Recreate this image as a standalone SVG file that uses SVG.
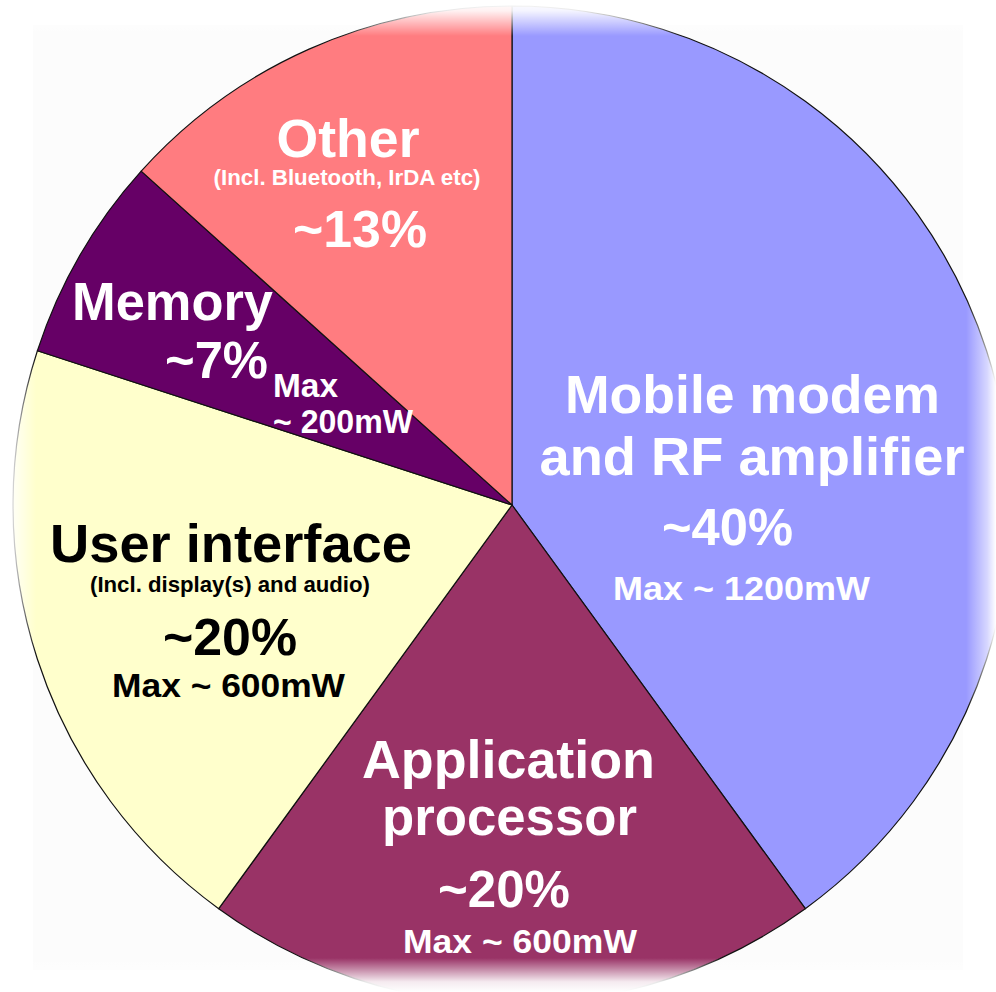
<svg xmlns="http://www.w3.org/2000/svg" width="996" height="992" viewBox="0 0 996 992">
  <style>
    .slice { stroke: #111; stroke-width: 1.2; stroke-linejoin: round; }
    .t { font-family: "Liberation Sans", Arial, sans-serif; font-weight: bold; text-anchor: middle; }
    .ts { font-family: "Liberation Sans", Arial, sans-serif; font-weight: bold; text-anchor: start; }
    .w { fill: #ffffff; }
    .k { fill: #000000; }
    .big { font-size: 53px; }
    .pct { font-size: 51px; }
    .sub { font-size: 22px; }
    .max { font-size: 33px; }
  </style>
  <defs>
    <linearGradient id="fadeTop" x1="0" y1="0" x2="0" y2="1">
      <stop offset="0" stop-color="#fff" stop-opacity="1"/>
      <stop offset="0.3" stop-color="#fff" stop-opacity="0.9"/>
      <stop offset="1" stop-color="#fff" stop-opacity="0"/>
    </linearGradient>
    <linearGradient id="fadeBottom" x1="0" y1="1" x2="0" y2="0">
      <stop offset="0" stop-color="#fff" stop-opacity="1"/>
      <stop offset="0.3" stop-color="#fff" stop-opacity="0.9"/>
      <stop offset="1" stop-color="#fff" stop-opacity="0"/>
    </linearGradient>
    <linearGradient id="fadeLeft" x1="0" y1="0" x2="1" y2="0">
      <stop offset="0" stop-color="#fff" stop-opacity="1"/>
      <stop offset="0.3" stop-color="#fff" stop-opacity="0.9"/>
      <stop offset="1" stop-color="#fff" stop-opacity="0"/>
    </linearGradient>
    <linearGradient id="fadeRight" x1="1" y1="0" x2="0" y2="0">
      <stop offset="0" stop-color="#fff" stop-opacity="1"/>
      <stop offset="0.3" stop-color="#fff" stop-opacity="0.6"/>
      <stop offset="1" stop-color="#fff" stop-opacity="0"/>
    </linearGradient>
  </defs>
  <rect x="0" y="0" width="996" height="992" fill="#ffffff"/>
  <rect x="33" y="25" width="930" height="945" fill="#fcfcfc"/>

  <g id="mobile-modem">
    <path class="slice" fill="#9999FF" d="M512,505 L512,6 A499,499 0 0,1 805.3,908.7 Z"/>
  </g>
  <g id="application-processor">
    <path class="slice" fill="#993366" d="M512,505 L805.3,908.7 A499,499 0 0,1 218.7,908.7 Z"/>
  </g>
  <g id="user-interface">
    <path class="slice" fill="#FFFFCC" d="M512,505 L218.7,908.7 A499,499 0 0,1 37.4,350.8 Z"/>
  </g>
  <g id="memory">
    <path class="slice" fill="#660066" d="M512,505 L37.4,350.8 A499,499 0 0,1 141.2,171.1 Z"/>
  </g>
  <g id="other">
    <path class="slice" fill="#FF7C80" d="M512,505 L141.2,171.1 A499,499 0 0,1 512,6 Z"/>
  </g>

  <g id="edge-fade">
    <rect x="0" y="0" width="996" height="36" fill="url(#fadeTop)"/>
    <rect x="0" y="958" width="996" height="34" fill="url(#fadeBottom)"/>
    <rect x="0" y="0" width="36" height="992" fill="url(#fadeLeft)"/>
    <rect x="966" y="0" width="30" height="992" fill="url(#fadeRight)"/>
  </g>

  <g id="labels-other">
    <text class="t w big" x="348" y="157" textLength="143" lengthAdjust="spacingAndGlyphs">Other</text>
    <text class="t w sub" x="347" y="185" textLength="267" lengthAdjust="spacingAndGlyphs">(Incl. Bluetooth, IrDA etc)</text>
    <text class="t w pct" x="360" y="247" textLength="134" lengthAdjust="spacingAndGlyphs">~13%</text>
  </g>
  <g id="labels-memory">
    <text class="t w big" x="172.5" y="320" textLength="201" lengthAdjust="spacingAndGlyphs">Memory</text>
    <text class="t w pct" x="216.5" y="378" textLength="103" lengthAdjust="spacingAndGlyphs">~7%</text>
    <text class="ts w max" x="273" y="397" font-size="31" textLength="65" lengthAdjust="spacingAndGlyphs">Max</text>
    <text class="ts w max" x="273" y="433" font-size="31" textLength="140" lengthAdjust="spacingAndGlyphs">~ 200mW</text>
  </g>
  <g id="labels-mobile">
    <text class="t w big" x="752.5" y="413" textLength="375" lengthAdjust="spacingAndGlyphs">Mobile modem</text>
    <text class="t w big" x="752" y="475" textLength="425" lengthAdjust="spacingAndGlyphs">and RF amplifier</text>
    <text class="t w pct" x="727.5" y="545" textLength="131" lengthAdjust="spacingAndGlyphs">~40%</text>
    <text class="t w max" x="741.5" y="600" textLength="257" lengthAdjust="spacingAndGlyphs">Max ~ 1200mW</text>
  </g>
  <g id="labels-ui">
    <text class="t k big" x="231" y="562" textLength="362" lengthAdjust="spacingAndGlyphs">User interface</text>
    <text class="t k sub" x="230" y="592" textLength="280" lengthAdjust="spacingAndGlyphs">(Incl. display(s) and audio)</text>
    <text class="t k pct" x="230" y="655" textLength="134" lengthAdjust="spacingAndGlyphs">~20%</text>
    <text class="t k max" x="228.5" y="697" textLength="233" lengthAdjust="spacingAndGlyphs">Max ~ 600mW</text>
  </g>
  <g id="labels-app">
    <text class="t w big" x="508.5" y="778" textLength="293" lengthAdjust="spacingAndGlyphs">Application</text>
    <text class="t w big" x="509.5" y="835" textLength="255" lengthAdjust="spacingAndGlyphs">processor</text>
    <text class="t w pct" x="504" y="907" textLength="132" lengthAdjust="spacingAndGlyphs">~20%</text>
    <text class="t w max" x="520" y="953" textLength="234" lengthAdjust="spacingAndGlyphs">Max ~ 600mW</text>
  </g>
  <g id="connectors"></g>
</svg>
